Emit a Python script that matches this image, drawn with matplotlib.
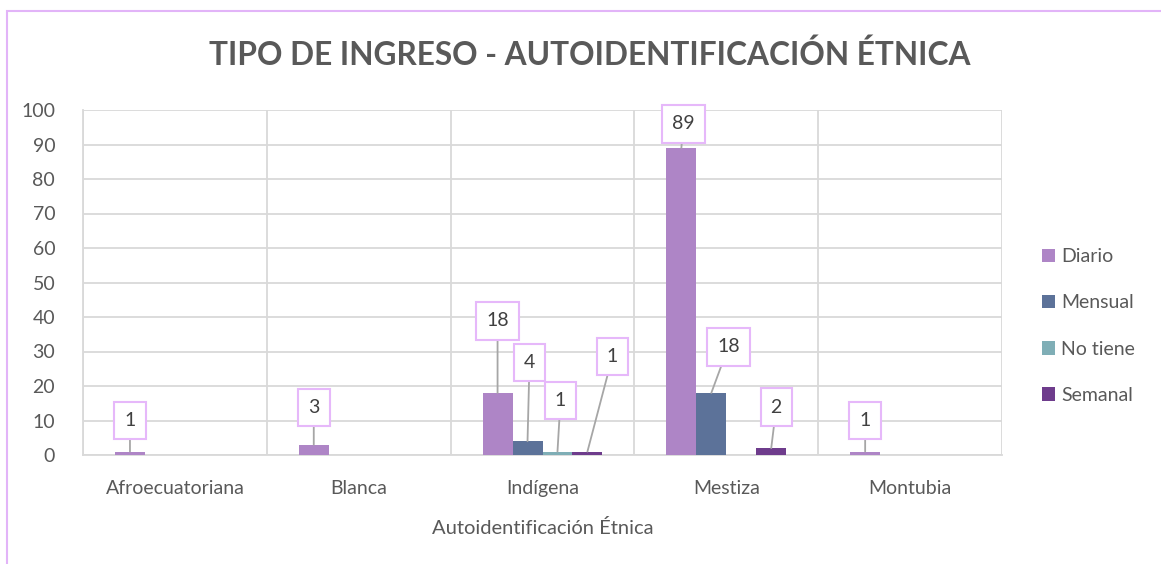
import matplotlib
matplotlib.use("Agg")
import matplotlib.pyplot as plt
from matplotlib.patches import Rectangle
import numpy as np

plt.rcParams["font.family"] = ["Lato", "DejaVu Sans"]

categories = ["Afroecuatoriana", "Blanca", "Indígena", "Mestiza", "Montubia"]
series = ["Diario", "Mensual", "No tiene", "Semanal"]
diario = [1, 3, 18, 89, 1]
mensual = [0, 0, 4, 18, 0]
no_tiene = [0, 0, 1, 0, 0]
semanal = [0, 0, 1, 2, 0]
values = [diario, mensual, no_tiene, semanal]
colors = ["#AE85C6", "#5C7299", "#7FAEB6", "#6E3C8C"]

# label offsets in pixels (dx, dy) from bar top, per (series, category)
label_offsets = {
    (0, 0): (0, 31), (0, 1): (0, 37), (0, 2): (0, 72), (0, 3): (2, 24), (0, 4): (0, 31),
    (1, 2): (2, 79), (1, 3): (17, 46),
    (2, 2): (3, 51),
    (3, 2): (25, 95), (3, 3): (5, 41),
}

W, H = 1161, 564
fig = plt.figure(figsize=(W / 100, H / 100), dpi=100)
ax = fig.add_axes([83 / W, 1 - 455 / H, (1002 - 83) / W, (455 - 110) / H])

grid_c = "#D9D9D9"
text_c = "#595959"
bw = 0.163
x = np.arange(len(categories))
handles = []
for i, (name, vals, c) in enumerate(zip(series, values, colors)):
    pos = x + (i - 1.5) * bw
    b = ax.bar(pos, vals, width=bw, color=c, label=name, zorder=3)
    handles.append(b)
    for j, v in enumerate(vals):
        if (i, j) in label_offsets:
            dx, dy = label_offsets[(i, j)]
            ax.annotate(str(v), xy=(pos[j], v), xytext=(dx, dy), textcoords="offset pixels",
                        ha="center", va="center", fontsize=14, color="#404040",
                        bbox=dict(boxstyle="square,pad=0.52", fc="white", ec="#E6B8FA", lw=1.5),
                        arrowprops=dict(arrowstyle="-", color="#A6A6A6", lw=1.3,
                                        shrinkA=0, shrinkB=0),
                        zorder=5)

ax.set_xlim(-0.5, 4.5)
ax.set_ylim(0, 100)
ax.set_yticks(np.arange(0, 101, 10))
ax.set_xticks(x)
ax.set_xticklabels(categories)
ax.set_xticks(np.arange(-0.5, 4.6, 1), minor=True)
ax.grid(axis="y", which="major", color=grid_c, lw=1.3, zorder=0)
ax.grid(axis="x", which="minor", color=grid_c, lw=1.3, zorder=0)
ax.tick_params(axis="both", which="both", length=0, labelsize=14, labelcolor=text_c)
ax.tick_params(axis="x", pad=18)
ax.tick_params(axis="y", pad=20)
for s in ["top", "right"]:
    ax.spines[s].set_visible(False)
ax.spines["left"].set_color(grid_c)
ax.spines["bottom"].set_color(grid_c)
ax.spines["left"].set_linewidth(1.3)
ax.spines["bottom"].set_linewidth(1.3)
ax.set_xlabel("Autoidentificación Étnica", fontsize=14.5, color=text_c, labelpad=16)

fig.text(590 / W, 1 - 55 / H, "TIPO DE INGRESO - AUTOIDENTIFICACIÓN ÉTNICA", ha="center", va="center",
         fontsize=22.8, fontweight="bold", color=text_c)

leg = fig.legend(handles=handles, labels=series, loc="center left",
                 bbox_to_anchor=(1024 / W, 1 - 326 / H), frameon=False, fontsize=14,
                 handlelength=0.7, handleheight=0.7, handletextpad=0.3, labelspacing=1.5)
for t in leg.get_texts():
    t.set_color(text_c)

fig.patches.append(Rectangle((7 / W, -0.1), 1.2, 1 - 11 / H + 0.1, transform=fig.transFigure,
                             fill=False, ec="#E2B4F8", lw=1.5, zorder=-1))

fig.savefig("out.png", dpi=100)
